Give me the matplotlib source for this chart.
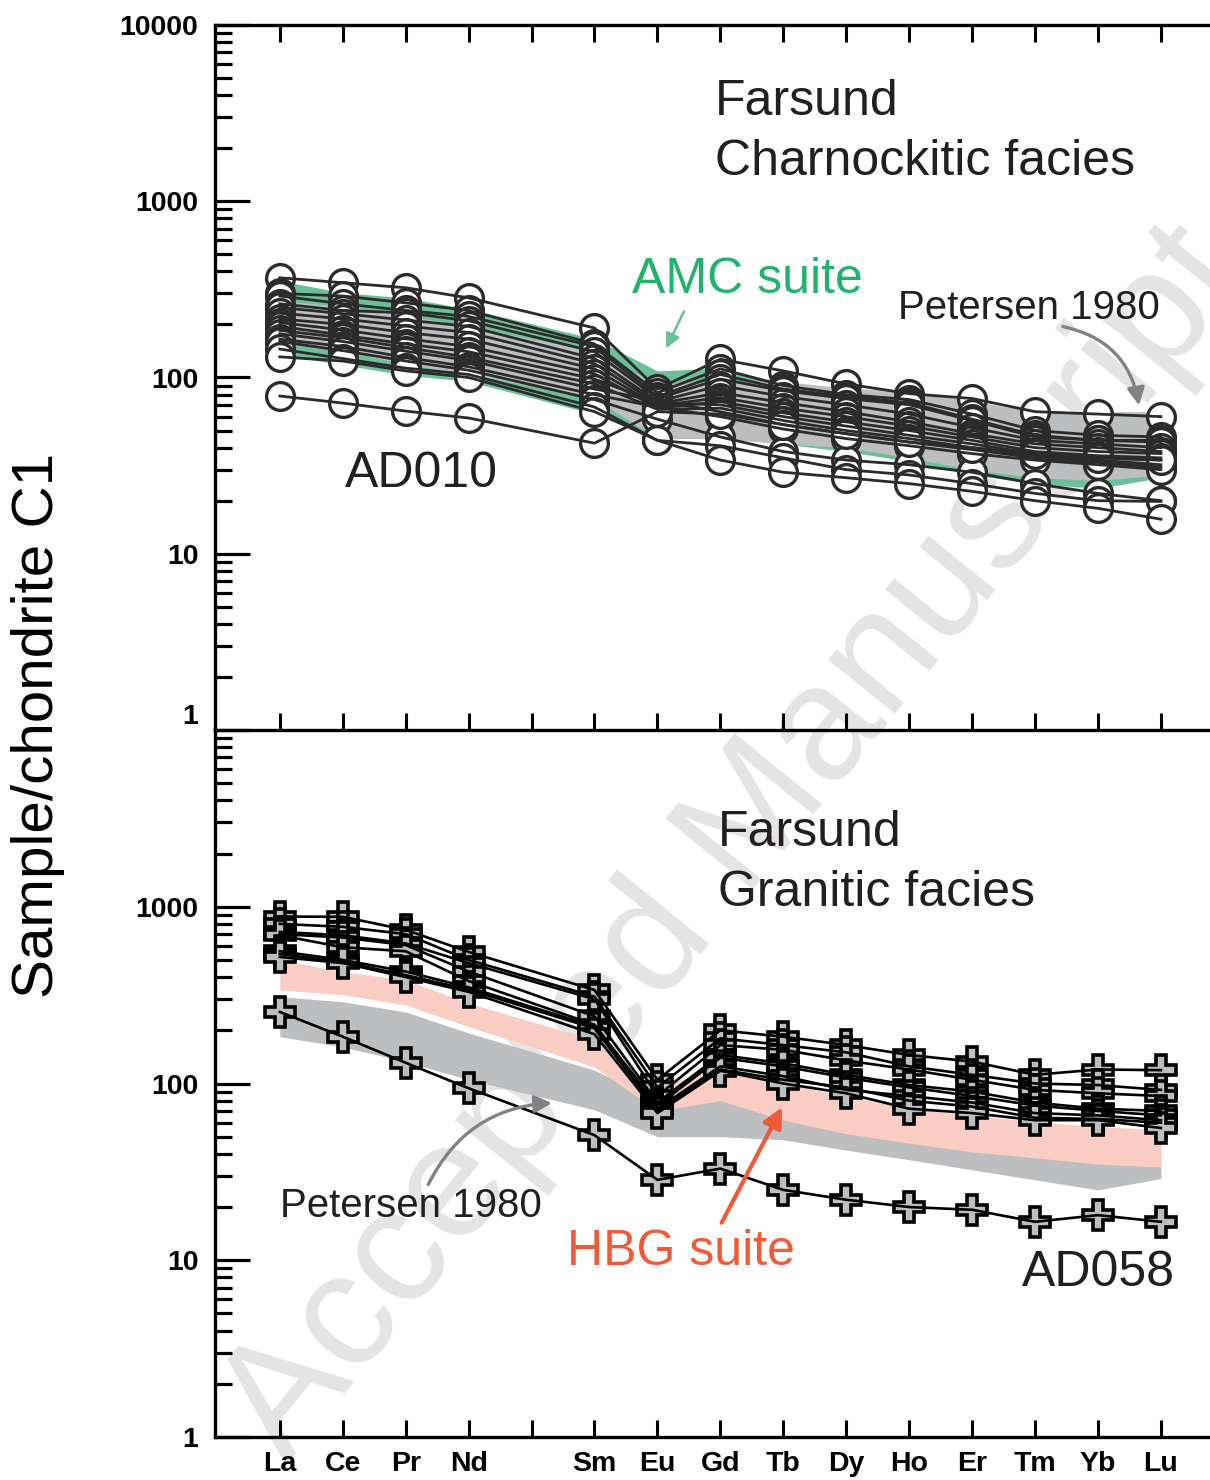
import numpy as np
import matplotlib.pyplot as plt
from matplotlib.patches import FancyArrowPatch
from matplotlib.ticker import LogLocator, NullFormatter

plt.rcParams['font.family'] = ['Liberation Sans', 'DejaVu Sans']

# REE order, Pm has a tick but no label and no data
elements = ["La", "Ce", "Pr", "Nd", "", "Sm", "Eu", "Gd", "Tb", "Dy", "Ho", "Er", "Tm", "Yb", "Lu"]
ree_x = [0, 1, 2, 3, 5, 6, 7, 8, 9, 10, 11, 12, 13, 14]

# charnockitic facies (La..Lu, no Pm)
charno = [
    [368, 345, 323, 283, 191, 86, 127, 109, 92, 81, 76, 64, 62, 60],
    [300, 290, 265, 240, 155, 82, 112, 90, 80, 75, 62, 50, 47, 46],
    [290, 262, 240, 222, 150, 78, 104, 86, 78, 72, 58, 47, 44, 44],
    [262, 240, 233, 210, 140, 76, 98, 84, 76, 70, 57, 46, 44, 43],
    [250, 230, 212, 195, 128, 73, 90, 78, 70, 62, 52, 44, 42, 40],
    [232, 215, 196, 180, 120, 71, 82, 72, 64, 56, 48, 42, 40, 38],
    [215, 200, 180, 165, 112, 69, 77, 67, 60, 53, 46, 40, 38, 37],
    [205, 186, 166, 150, 105, 67, 73, 63, 56, 50, 44, 38, 36, 35],
    [195, 174, 155, 140, 98, 72, 70, 60, 53, 47, 42, 37, 35, 34],
    [185, 168, 148, 130, 92, 66, 67, 57, 50, 45, 40, 36, 34, 32],
    [177, 160, 141, 125, 86, 74, 64, 54, 48, 43, 39, 35, 33, 31],
    [165, 150, 130, 115, 80, 68, 60, 51, 45, 41, 37, 34, 32, 30],
    [160, 142, 124, 110, 75, 58, 46, 38, 34, 32, 29, 25, 22, 20],
    [145, 128, 113, 104, 68, 44, 41, 35, 30, 28, 25, 22, 20, 19.8],
    [131, 124, 109, 100, 64, 44, 34, 29, 27, 25, 22.6, 20, 18.1, 15.7],
]
ad010 = [78.5, 71.6, 64.5, 58.9, 42.4, 64, 62, 54, 48, 43, 40, 37, 35, 34]

amc_hi = [354, 303, 283, 245, 166, 109, 113, 93, 84, 73.5, 68.8, 64, 62.5, 62.5]
amc_lo = [135, 118, 103, 95, 62, 45, 46, 42, 38, 33.5, 28, 25, 23.5, 27]
pet_hi = [272, 254, 225, 195, 141, 92, 95, 95, 87, 84, 73.5, 64, 64, 64]
pet_lo = [157, 141, 119, 105, 76, 45, 45, 42, 40, 35, 30, 27, 26, 28]

# granitic facies
granitic = [
    [880, 877, 740, 555, 338, 105, 200, 184, 165, 145, 133, 112, 120, 119],
    [800, 770, 700, 500, 310, 95, 180, 165, 150, 125, 112, 100, 98, 92],
    [720, 690, 620, 480, 300, 85, 165, 155, 135, 120, 105, 92, 88, 85],
    [700, 670, 607, 430, 240, 78, 145, 130, 112, 98, 90, 78, 72, 70],
    [690, 590, 560, 380, 215, 75, 140, 125, 108, 95, 85, 75, 70, 66],
    [560, 500, 430, 350, 210, 72, 125, 110, 92, 85, 78, 68, 66, 62],
    [540, 488, 410, 340, 205, 70, 120, 105, 95, 80, 74, 64, 63, 60],
    [520, 480, 400, 330, 190, 68, 118, 100, 88, 72, 68, 62, 62, 56],
]
ad058 = [254, 184, 131, 94, 51, 28.5, 33, 25, 22, 20, 19.3, 16.5, 18, 16.5]

hbg_hi = [501, 428, 386, 285, 176, 95, 125, 100, 85, 72, 66, 61, 57, 55]
hbg_lo = [338, 318, 278, 210, 124, 70, 80, 62, 52, 46, 41, 38, 35, 33.7]
pet2_hi = [310, 290, 254, 193, 119, 81, 81, 70, 62, 55, 50, 45, 42, 40]
pet2_lo = [184, 161, 133, 105, 71, 50, 50, 48, 42, 37, 32.5, 28.5, 25, 29]

LINE = "#2b2b2b"
GREY_FILL = "#bcbec0"
GREEN_FILL = "#6cc097"
PINK_FILL = "#f9cdc4"
GREEN_TXT = "#1fb36b"
ORANGE = "#f15a38"
ARROW_GREY = "#808285"

fig = plt.figure(figsize=(12.1, 14.8), dpi=100)
W, H = 1210.0, 1480.0
ax1 = fig.add_axes([215 / W, 1 - 730 / H, 995 / W, 705 / H])
ax2 = fig.add_axes([215 / W, 1 - 1437 / H, 995 / W, 707 / H])

for ax in (ax1, ax2):
    ax.set_facecolor("none")
    ax.set_yscale("log")
    ax.set_ylim(1, 10000)
    ax.set_xlim(-1.03, 14.78)
    ax.spines["right"].set_visible(False)
    for s in ax.spines.values():
        s.set_linewidth(2.4)
    ax.set_xticks(range(15))
    ax.yaxis.set_minor_locator(LogLocator(base=10, subs=np.arange(2, 10), numticks=20))
    ax.yaxis.set_minor_formatter(NullFormatter())
    ax.tick_params(axis="y", which="major", direction="in", length=25, width=2.3,
                   labelsize=20.5, pad=12)
    ax.tick_params(axis="y", which="minor", direction="in", length=12.5, width=2.3)
    ax.tick_params(axis="x", which="major", direction="in", length=12, width=2.2)

ax1.set_yticks([1, 10, 100, 1000, 10000], labels=["1", "10", "100", "1000", "10000"])
ax2.set_yticks([1, 10, 100, 1000], labels=["1", "10", "100", "1000"])
ax1.yaxis.set_minor_formatter(NullFormatter())
ax2.yaxis.set_minor_formatter(NullFormatter())
ax1.tick_params(axis="x", top=True, bottom=True, labelbottom=False)
ax2.tick_params(axis="x", top=False, bottom=True, labelsize=20.5, pad=10)
ax2.set_xticklabels(elements)
ax2.spines["top"].set_visible(False)
for ax in (ax1, ax2):
    for lab in ax.get_yticklabels() + ax.get_xticklabels():
        lab.set_fontweight("bold")
ax1.get_yticklabels()[0].set_verticalalignment("bottom")

# top panel: envelopes, then samples
ax1.fill_between(ree_x, amc_lo, amc_hi, color=GREEN_FILL, lw=0, zorder=1)
ax1.fill_between(ree_x, pet_lo, pet_hi, color=GREY_FILL, lw=0, zorder=2)
for s in charno + [ad010]:
    ax1.plot(ree_x, s, ls="none", marker="o", ms=20, mfc="white", mec=LINE, mew=2.4, zorder=3)
for s in charno + [ad010]:
    ax1.plot(ree_x, s, color=LINE, lw=2, zorder=4)

# bottom panel
ax2.fill_between(ree_x, pet2_lo, pet2_hi, color=GREY_FILL, lw=0, zorder=1)
ax2.fill_between(ree_x, hbg_lo, hbg_hi, color=PINK_FILL, lw=0, zorder=2)
for s in granitic + [ad058]:
    ax2.plot(ree_x, s, ls="none", marker="P", ms=22, mfc=GREY_FILL, mec="black", mew=2.6, zorder=3)
for s in granitic + [ad058]:
    ax2.plot(ree_x, s, color="black", lw=1.9, zorder=4)

# labels
big = 36
ax1.text(6.92, 3076, "Farsund", fontsize=big, color="#231f20", va="baseline")
ax1.text(6.92, 1401, "Charnockitic facies", fontsize=big, color="#231f20", va="baseline")
ax1.text(5.6, 303, "AMC suite", fontsize=big, color=GREEN_TXT, va="baseline")
ax1.text(9.83, 215, "Petersen 1980", fontsize=29, color="#231f20", va="baseline")
ax1.text(1.03, 23.8, "AD010", fontsize=big, color="#231f20", va="baseline")

ax2.text(6.96, 2213, "Farsund", fontsize=big, color="#231f20", va="baseline")
ax2.text(6.96, 1012, "Granitic facies", fontsize=big, color="#231f20", va="baseline")
ax2.text(0.0, 17.6, "Petersen 1980", fontsize=29, color="#231f20", va="baseline")
ax2.text(4.56, 9.4, "HBG suite", fontsize=big, color=ORANGE, va="baseline")
ax2.text(14.23, 7.16, "AD058", fontsize=big, color="#231f20", va="baseline", ha="right")

# arrows
ax1.add_patch(FancyArrowPatch((6.44, 245), (6.12, 141.6), arrowstyle="-|>", mutation_scale=22,
                              color=GREEN_FILL, lw=1.8, zorder=6))
ax1.add_patch(FancyArrowPatch((12.4, 196), (13.66, 67), arrowstyle="-|>", mutation_scale=26,
                              connectionstyle="arc3,rad=-0.35", color=ARROW_GREY, lw=2.4, zorder=6))
ax2.add_patch(FancyArrowPatch((2.34, 26), (4.37, 77.6), arrowstyle="-|>", mutation_scale=26,
                              connectionstyle="arc3,rad=-0.3", color=ARROW_GREY, lw=2.4, zorder=6))
ax2.add_patch(FancyArrowPatch((7.0, 15.8), (8.0, 75.7), arrowstyle="-|>", mutation_scale=30,
                              color=ORANGE, lw=3, zorder=6))

fig.text(38 / W, 1 - 725 / H, "Sample/chondrite C1", rotation=90, fontsize=42,
         ha="center", va="center")

fig.text(735 / W, 1 - 845 / H, "Accepted Manuscript", rotation=51, fontsize=118,
         color="#e4e4e4", ha="center", va="center", rotation_mode="anchor", zorder=-1)

fig.savefig("out.png", dpi=100)
